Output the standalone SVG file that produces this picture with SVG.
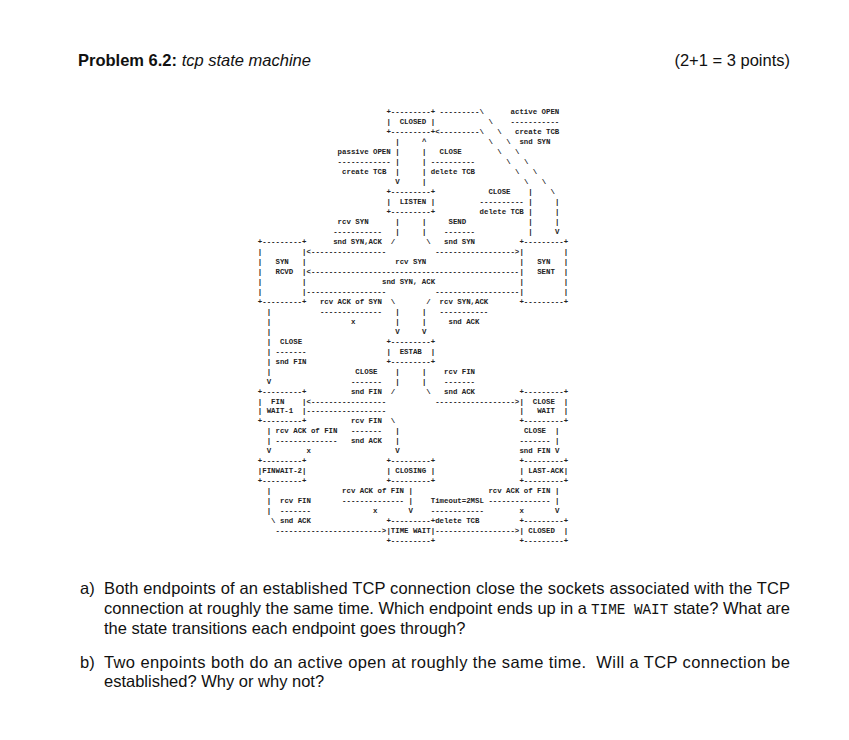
<svg xmlns="http://www.w3.org/2000/svg" width="849" height="740" viewBox="0 0 849 740">
<style>
.bg{fill:#fff}
.t{font-family:"Liberation Sans",Arial,sans-serif;font-size:16.5px;fill:#111}
.b{font-weight:bold}
.i{font-style:italic}
.tt{font-family:"Liberation Mono","Courier New",monospace;font-size:14.3px;fill:#111}
.m{font-family:"Liberation Mono","Courier New",monospace;font-size:7.39px;font-weight:bold;fill:#222}
</style>
<rect class="bg" x="0" y="0" width="849" height="740"/>
<g id="header">
<text class="t" x="78" y="66"><tspan class="b">Problem 6.2:</tspan><tspan class="i"> tcp state machine</tspan></text>
<text class="t" x="790" y="66" text-anchor="end">(2+1 = 3 points)</text>
</g>
<g id="state-CLOSED" class="m">
<text x="386.4" y="114.2">+---------+</text>
<text x="386.4" y="124.18">|&#160;&#160;CLOSED&#160;|</text>
<text x="386.4" y="134.15">+---------+</text>
</g>
<g id="state-LISTEN" class="m">
<text x="386.4" y="194.01">+---------+</text>
<text x="386.4" y="203.98">|&#160;&#160;LISTEN&#160;|</text>
<text x="386.4" y="213.96">+---------+</text>
</g>
<g id="state-SYN-RCVD" class="m">
<text x="257.79" y="243.89">+---------+</text>
<text x="257.79" y="253.86">|&#160;&#160;&#160;&#160;&#160;&#160;&#160;&#160;&#160;|</text>
<text x="257.79" y="263.84">|&#160;&#160;&#160;SYN&#160;&#160;&#160;|</text>
<text x="257.79" y="273.82">|&#160;&#160;&#160;RCVD&#160;&#160;|</text>
<text x="257.79" y="283.79">|&#160;&#160;&#160;&#160;&#160;&#160;&#160;&#160;&#160;|</text>
<text x="257.79" y="293.77">|&#160;&#160;&#160;&#160;&#160;&#160;&#160;&#160;&#160;|</text>
<text x="257.79" y="303.74">+---------+</text>
</g>
<g id="state-SYN-SENT" class="m">
<text x="519.45" y="243.89">+---------+</text>
<text x="519.45" y="253.86">|&#160;&#160;&#160;&#160;&#160;&#160;&#160;&#160;&#160;|</text>
<text x="519.45" y="263.84">|&#160;&#160;&#160;SYN&#160;&#160;&#160;|</text>
<text x="519.45" y="273.82">|&#160;&#160;&#160;SENT&#160;&#160;|</text>
<text x="519.45" y="283.79">|&#160;&#160;&#160;&#160;&#160;&#160;&#160;&#160;&#160;|</text>
<text x="519.45" y="293.77">|&#160;&#160;&#160;&#160;&#160;&#160;&#160;&#160;&#160;|</text>
<text x="519.45" y="303.74">+---------+</text>
</g>
<g id="state-ESTAB" class="m">
<text x="386.4" y="343.65">+---------+</text>
<text x="386.4" y="353.62">|&#160;&#160;ESTAB&#160;&#160;|</text>
<text x="386.4" y="363.6">+---------+</text>
</g>
<g id="state-FIN-WAIT-1" class="m">
<text x="257.79" y="393.53">+---------+</text>
<text x="257.79" y="403.5">|&#160;&#160;FIN&#160;&#160;&#160;&#160;|</text>
<text x="257.79" y="413.48">|&#160;WAIT-1&#160;&#160;|</text>
<text x="257.79" y="423.46">+---------+</text>
</g>
<g id="state-CLOSE-WAIT" class="m">
<text x="519.45" y="393.53">+---------+</text>
<text x="519.45" y="403.5">|&#160;&#160;CLOSE&#160;&#160;|</text>
<text x="519.45" y="413.48">|&#160;&#160;&#160;WAIT&#160;&#160;|</text>
<text x="519.45" y="423.46">+---------+</text>
</g>
<g id="state-FINWAIT-2" class="m">
<text x="257.79" y="463.36">+---------+</text>
<text x="257.79" y="473.34">|FINWAIT-2|</text>
<text x="257.79" y="483.31">+---------+</text>
</g>
<g id="state-CLOSING" class="m">
<text x="386.4" y="463.36">+---------+</text>
<text x="386.4" y="473.34">|&#160;CLOSING&#160;|</text>
<text x="386.4" y="483.31">+---------+</text>
</g>
<g id="state-LAST-ACK" class="m">
<text x="519.45" y="463.36">+---------+</text>
<text x="519.45" y="473.34">|&#160;LAST-ACK|</text>
<text x="519.45" y="483.31">+---------+</text>
</g>
<g id="state-TIME-WAIT" class="m">
<text x="386.4" y="523.22">+---------+</text>
<text x="386.4" y="533.19">|TIME&#160;WAIT|</text>
<text x="386.4" y="543.17">+---------+</text>
</g>
<g id="state-CLOSED-2" class="m">
<text x="519.45" y="523.22">+---------+</text>
<text x="519.45" y="533.19">|&#160;CLOSED&#160;&#160;|</text>
<text x="519.45" y="543.17">+---------+</text>
</g>
<g id="connectors" class="m">
<text x="439.62" y="114.2">---------\</text>
<text x="510.58" y="114.2">active&#160;OPEN</text>
<text x="488.41" y="124.18">\</text>
<text x="510.58" y="124.18">-----------</text>
<text x="435.19" y="134.15">&lt;---------\</text>
<text x="497.28" y="134.15">\</text>
<text x="515.02" y="134.15">create&#160;TCB</text>
<text x="395.27" y="144.13">|</text>
<text x="421.88" y="144.13">^</text>
<text x="488.41" y="144.13">\</text>
<text x="506.15" y="144.13">\</text>
<text x="519.45" y="144.13">snd&#160;SYN</text>
<text x="337.62" y="154.1">passive&#160;OPEN</text>
<text x="395.27" y="154.1">|</text>
<text x="421.88" y="154.1">|</text>
<text x="439.62" y="154.1">CLOSE</text>
<text x="497.28" y="154.1">\</text>
<text x="515.02" y="154.1">\</text>
<text x="337.62" y="164.08">------------</text>
<text x="395.27" y="164.08">|</text>
<text x="421.88" y="164.08">|</text>
<text x="430.75" y="164.08">----------</text>
<text x="506.15" y="164.08">\</text>
<text x="523.89" y="164.08">\</text>
<text x="342.05" y="174.06">create&#160;TCB</text>
<text x="395.27" y="174.06">|</text>
<text x="421.88" y="174.06">|</text>
<text x="430.75" y="174.06">delete&#160;TCB</text>
<text x="515.02" y="174.06">\</text>
<text x="532.76" y="174.06">\</text>
<text x="395.27" y="184.03">V</text>
<text x="421.88" y="184.03">|</text>
<text x="523.89" y="184.03">\</text>
<text x="541.63" y="184.03">\</text>
<text x="488.41" y="194.01">CLOSE</text>
<text x="528.32" y="194.01">|</text>
<text x="550.5" y="194.01">\</text>
<text x="479.54" y="203.98">----------</text>
<text x="528.32" y="203.98">|</text>
<text x="554.93" y="203.98">|</text>
<text x="479.54" y="213.96">delete&#160;TCB</text>
<text x="528.32" y="213.96">|</text>
<text x="554.93" y="213.96">|</text>
<text x="337.62" y="223.94">rcv&#160;SYN</text>
<text x="395.27" y="223.94">|</text>
<text x="421.88" y="223.94">|</text>
<text x="448.49" y="223.94">SEND</text>
<text x="528.32" y="223.94">|</text>
<text x="554.93" y="223.94">|</text>
<text x="333.18" y="233.91">-----------</text>
<text x="395.27" y="233.91">|</text>
<text x="421.88" y="233.91">|</text>
<text x="444.06" y="233.91">-------</text>
<text x="528.32" y="233.91">|</text>
<text x="554.93" y="233.91">V</text>
<text x="333.18" y="243.89">snd&#160;SYN,ACK</text>
<text x="390.84" y="243.89">/</text>
<text x="426.32" y="243.89">\</text>
<text x="444.06" y="243.89">snd&#160;SYN</text>
<text x="306.57" y="253.86">&lt;-----------------</text>
<text x="435.19" y="253.86">------------------&gt;</text>
<text x="395.27" y="263.84">rcv&#160;SYN</text>
<text x="306.57" y="273.82">&lt;-----------------------------------------------</text>
<text x="381.97" y="283.79">snd&#160;SYN,&#160;ACK</text>
<text x="306.57" y="293.77">------------------</text>
<text x="435.19" y="293.77">-------------------</text>
<text x="319.88" y="303.74">rcv&#160;ACK&#160;of&#160;SYN</text>
<text x="390.84" y="303.74">\</text>
<text x="426.32" y="303.74">/</text>
<text x="439.62" y="303.74">rcv&#160;SYN,ACK</text>
<text x="266.66" y="313.72">|</text>
<text x="319.88" y="313.72">--------------</text>
<text x="395.27" y="313.72">|</text>
<text x="421.88" y="313.72">|</text>
<text x="439.62" y="313.72">-----------</text>
<text x="266.66" y="323.7">|</text>
<text x="350.92" y="323.7">x</text>
<text x="395.27" y="323.7">|</text>
<text x="421.88" y="323.7">|</text>
<text x="448.49" y="323.7">snd&#160;ACK</text>
<text x="266.66" y="333.67">|</text>
<text x="395.27" y="333.67">V</text>
<text x="421.88" y="333.67">V</text>
<text x="266.66" y="343.65">|</text>
<text x="279.96" y="343.65">CLOSE</text>
<text x="266.66" y="353.62">|</text>
<text x="275.53" y="353.62">-------</text>
<text x="266.66" y="363.6">|</text>
<text x="275.53" y="363.6">snd&#160;FIN</text>
<text x="266.66" y="373.58">|</text>
<text x="355.36" y="373.58">CLOSE</text>
<text x="395.27" y="373.58">|</text>
<text x="421.88" y="373.58">|</text>
<text x="444.06" y="373.58">rcv&#160;FIN</text>
<text x="266.66" y="383.55">V</text>
<text x="350.92" y="383.55">-------</text>
<text x="395.27" y="383.55">|</text>
<text x="421.88" y="383.55">|</text>
<text x="444.06" y="383.55">-------</text>
<text x="350.92" y="393.53">snd&#160;FIN</text>
<text x="390.84" y="393.53">/</text>
<text x="426.32" y="393.53">\</text>
<text x="444.06" y="393.53">snd&#160;ACK</text>
<text x="306.57" y="403.5">&lt;-----------------</text>
<text x="435.19" y="403.5">------------------&gt;</text>
<text x="306.57" y="413.48">------------------</text>
<text x="350.92" y="423.46">rcv&#160;FIN</text>
<text x="390.84" y="423.46">\</text>
<text x="266.66" y="433.43">|</text>
<text x="275.53" y="433.43">rcv&#160;ACK&#160;of&#160;FIN</text>
<text x="350.92" y="433.43">-------</text>
<text x="395.27" y="433.43">|</text>
<text x="523.89" y="433.43">CLOSE</text>
<text x="554.93" y="433.43">|</text>
<text x="266.66" y="443.41">|</text>
<text x="275.53" y="443.41">--------------</text>
<text x="350.92" y="443.41">snd&#160;ACK</text>
<text x="395.27" y="443.41">|</text>
<text x="519.45" y="443.41">-------</text>
<text x="554.93" y="443.41">|</text>
<text x="266.66" y="453.38">V</text>
<text x="306.57" y="453.38">x</text>
<text x="395.27" y="453.38">V</text>
<text x="519.45" y="453.38">snd&#160;FIN</text>
<text x="554.93" y="453.38">V</text>
<text x="266.66" y="493.29">|</text>
<text x="342.05" y="493.29">rcv&#160;ACK&#160;of&#160;FIN</text>
<text x="408.58" y="493.29">|</text>
<text x="488.41" y="493.29">rcv&#160;ACK&#160;of&#160;FIN</text>
<text x="554.93" y="493.29">|</text>
<text x="266.66" y="503.26">|</text>
<text x="279.96" y="503.26">rcv&#160;FIN</text>
<text x="342.05" y="503.26">--------------</text>
<text x="408.58" y="503.26">|</text>
<text x="430.75" y="503.26">Timeout=2MSL</text>
<text x="488.41" y="503.26">--------------</text>
<text x="554.93" y="503.26">|</text>
<text x="266.66" y="513.24">|</text>
<text x="279.96" y="513.24">-------</text>
<text x="373.1" y="513.24">x</text>
<text x="408.58" y="513.24">V</text>
<text x="430.75" y="513.24">------------</text>
<text x="519.45" y="513.24">x</text>
<text x="554.93" y="513.24">V</text>
<text x="271.09" y="523.22">\</text>
<text x="279.96" y="523.22">snd&#160;ACK</text>
<text x="435.19" y="523.22">delete&#160;TCB</text>
<text x="275.53" y="533.19">------------------------&gt;</text>
<text x="435.19" y="533.19">------------------&gt;</text>
</g>
<g id="questions">
<text class="t" x="80" y="594">a)</text>
<text class="t" x="104" y="594" textLength="686" lengthAdjust="spacing">Both endpoints of an established TCP connection close the sockets associated with the TCP</text>
<text class="t" x="104" y="614" textLength="483" lengthAdjust="spacing">connection at roughly the same time. Which endpoint ends up in a</text>
<text class="tt" x="591" y="614">TIME WAIT</text>
<text class="t" x="790" y="614" text-anchor="end">state? What are</text>
<text class="t" x="104" y="633.5">the state transitions each endpoint goes through?</text>
<text class="t" x="80" y="667.5">b)</text>
<text class="t" x="104" y="667.5" textLength="686" lengthAdjust="spacing">Two enpoints both do an active open at roughly the same time.&#160; Will a TCP connection be</text>
<text class="t" x="104" y="687">established? Why or why not?</text>
</g>
</svg>
